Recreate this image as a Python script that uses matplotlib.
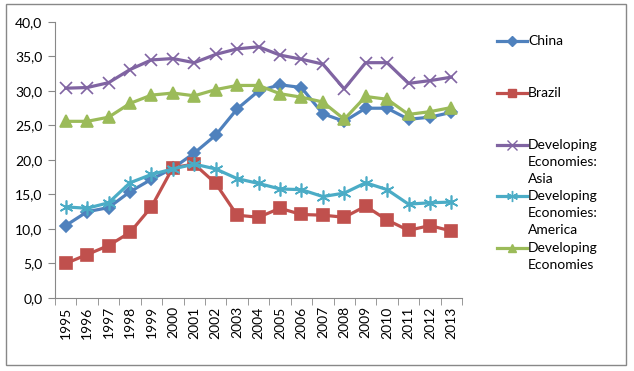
import matplotlib
matplotlib.use('Agg')
import matplotlib.pyplot as plt
from matplotlib.lines import Line2D
from matplotlib.patches import Rectangle

plt.rcParams['font.family'] = ['Lato', 'DejaVu Sans']

# data
years = [str(y) for y in range(1995, 2014)]
china = [10.5, 12.5, 13.1, 15.4, 17.2, 18.8, 21.0, 23.6, 27.4, 30.0,
         30.9, 30.5, 26.7, 25.6, 27.5, 27.5, 25.9, 26.2, 26.9]
brazil = [5.0, 6.3, 7.6, 9.5, 13.2, 18.9, 19.4, 16.6, 12.0, 11.7,
          13.0, 12.1, 12.0, 11.7, 13.3, 11.3, 9.8, 10.5, 9.7]
dev_asia = [30.4, 30.5, 31.2, 33.1, 34.5, 34.7, 34.1, 35.3, 36.1, 36.4,
            35.2, 34.6, 33.9, 30.3, 34.1, 34.1, 31.1, 31.5, 32.0]
dev_america = [13.2, 13.0, 13.8, 16.7, 17.9, 18.7, 19.4, 18.7, 17.3, 16.6,
               15.8, 15.7, 14.7, 15.2, 16.7, 15.7, 13.6, 13.8, 13.9]
dev_all = [25.6, 25.6, 26.2, 28.2, 29.4, 29.7, 29.3, 30.2, 30.8, 30.8,
           29.6, 29.1, 28.4, 25.9, 29.2, 28.8, 26.6, 27.0, 27.6]

labels = ['China', 'Brazil', 'Developing\nEconomies:\nAsia',
          'Developing\nEconomies:\nAmerica', 'Developing\nEconomies']
colors = ['#4F81BD', '#C0504D', '#8064A2', '#4BACC6', '#9BBB59']
markers = ['D', 's', 'x', (6, 2, 0), '^']
msizes = [6, 8, 9, 10, 8]

fig = plt.figure(figsize=(6.34, 3.71), dpi=100)
ax = fig.add_axes([0.0868, 0.1968, 0.642, 0.744])

series = [china, brazil, dev_asia, dev_america, dev_all]
x = list(range(len(years)))
for vals, c, m, ms in zip(series, colors, markers, msizes):
    ax.plot(x, vals, color=c, lw=2.3, marker=m, ms=ms, mew=1.2,
            mec=c, mfc=c, zorder=3)

ax.set_xlim(-0.5, len(years) - 0.5)
ax.set_ylim(0, 40)
ax.set_yticks(range(0, 41, 5))
ax.set_yticklabels(['%d,0' % v for v in range(0, 41, 5)], fontsize=10)
ax.set_xticks(x)
ax.set_xticklabels(years, rotation=90, fontsize=10)
ax.tick_params(axis='x', length=0, pad=6)
ax.set_xticks([i - 0.5 for i in range(len(years) + 1)], minor=True)
ax.tick_params(axis='x', which='minor', length=5, color='#888888')
ax.tick_params(axis='y', length=5, color='#888888', pad=4)
for s in ['top', 'right']:
    ax.spines[s].set_visible(False)
for s in ['left', 'bottom']:
    ax.spines[s].set_color('#888888')

# legend drawn by hand so the handle sits on the first text line
leg_y = [41, 93, 145, 196, 248]
for lab, c, m, ms, py in zip(labels, colors, markers, msizes, leg_y):
    fy = 1 - py / 371
    fig.add_artist(Line2D([497 / 634, 527 / 634], [fy, fy], color=c, lw=2.3,
                          transform=fig.transFigure))
    fig.add_artist(Line2D([512 / 634], [fy], color=c, marker=m, ms=ms * 0.8,
                          mec=c, mfc=c, transform=fig.transFigure))
    fig.text(528 / 634, fy + 6 / 371, lab, fontsize=10, va='top', ha='left',
             linespacing=1.5)

fig.add_artist(Rectangle((6 / 634, 6 / 371), 620 / 634, 361 / 371,
                         transform=fig.transFigure, fill=False,
                         ec='#888888', lw=1))

fig.savefig('out.png', dpi=100)
